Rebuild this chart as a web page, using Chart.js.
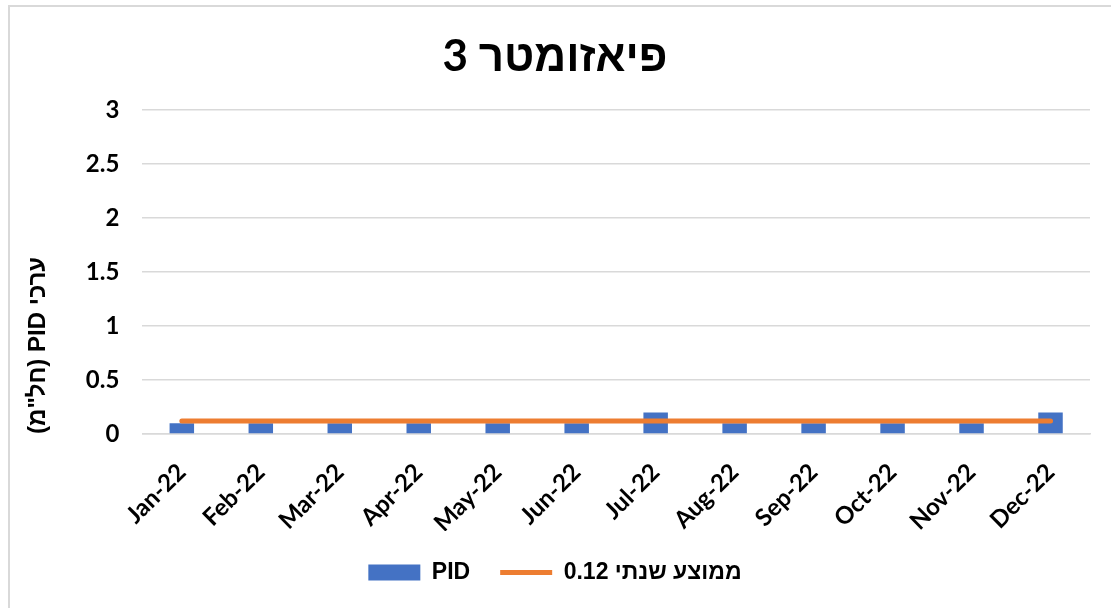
<!DOCTYPE html>
<html>

<head>
	<meta charset="utf-8">
	<title>פיאזומטר 3</title>
	<script src="https://cdn.jsdelivr.net/npm/chart.js"></script>
	<style>
		html, body { margin: 0; padding: 0; background: #fff; overflow: hidden; }
		#wrap { position: relative; width: 1111px; height: 608px; }
		#frame { position: absolute; left: 8px; top: 5px; width: 1200px; height: 700px; border: 2px solid #d9d9d9; pointer-events: none; }
	</style>
</head>

<body>
	<div id="wrap">
		<canvas id="canvas"></canvas>
		<div id="frame"></div>
	</div>

	<script>
		// dados
		const meses = ['Jan-22', 'Feb-22', 'Mar-22', 'Apr-22', 'May-22', 'Jun-22', 'Jul-22', 'Aug-22', 'Sep-22', 'Oct-22', 'Nov-22', 'Dec-22']
		const pid = [0.1, 0.1, 0.1, 0.1, 0.1, 0.1, 0.2, 0.1, 0.1, 0.1, 0.1, 0.2]
		const media = [0.12, 0.12, 0.12, 0.12, 0.12, 0.12, 0.12, 0.12, 0.12, 0.12, 0.12, 0.12]
		const ticksY = [0, 0.5, 1, 1.5, 2, 2.5, 3]

		const fonte = "Lato, 'Liberation Sans', sans-serif"
		const fonteHeb = "'Liberation Sans', sans-serif"
		const negrito = (size, family) => ({ family: family || fonte, size: size, weight: 'bold' })

		const ctx = document.querySelector('#canvas').getContext('2d')
		const chart = new Chart(ctx, {
			data: {
				labels: meses,
				datasets: [{
					type: 'bar',
					label: 'PID',
					data: pid,
					backgroundColor: '#4472C4',
					borderWidth: 0,
					barPercentage: 0.31,
					categoryPercentage: 1,
					pointStyle: 'rect',
					order: 2
				}, {
					type: 'line',
					label: 'ממוצע שנתי 0.12',
					data: media,
					borderColor: '#ED7D31',
					backgroundColor: '#ED7D31',
					borderWidth: 5,
					borderCapStyle: 'round',
					pointRadius: 0,
					pointStyle: 'line',
					fill: false,
					order: 1
				}]
			},
			options: {
				responsive: true,
				maintainAspectRatio: false,
				animation: false,
				layout: {
					padding: { left: 20, right: 21, top: 18, bottom: 14 }
				},
				plugins: {
					title: {
						display: true,
						text: '\u202Bפיאזומטר 3\u202C',
						color: '#000',
						font: negrito(44),
						padding: { top: 12, bottom: 27 }
					},
					legend: {
						position: 'bottom',
						textDirection: 'rtl',
						labels: {
							usePointStyle: true,
							pointStyleWidth: 52,
							boxHeight: 16,
							color: '#000',
							font: negrito(23, fonteHeb),
							padding: 30,
							sort: (a, b) => a.datasetIndex - b.datasetIndex
						}
					},
					tooltip: { enabled: false }
				},
				scales: {
					x: {
						grid: { display: false },
						border: { color: '#d9d9d9', width: 1.5 },
						afterFit: (scale) => { scale.height = 97 },
						ticks: {
							color: '#000',
							font: negrito(24),
							minRotation: 45,
							maxRotation: 45,
							padding: 16
						}
					},
					y: {
						min: 0,
						max: 3,
						afterBuildTicks: (axis) => { axis.ticks = ticksY.map(v => ({ value: v })) },
						grid: { color: '#d9d9d9', lineWidth: 1.5, drawTicks: false },
						border: { display: false },
						ticks: {
							color: '#000',
							font: negrito(24),
							padding: 23,
							callback: (v) => String(v)
						},
						title: {
							display: true,
							align: 'start',
							text: '\u202Bערכי PID (חל"מ)\u202C',
							color: '#000',
							font: negrito(24, fonteHeb),
							padding: { top: 4, bottom: 10 }
						}
					}
				}
			}
		});
	</script>
</body>

</html>
